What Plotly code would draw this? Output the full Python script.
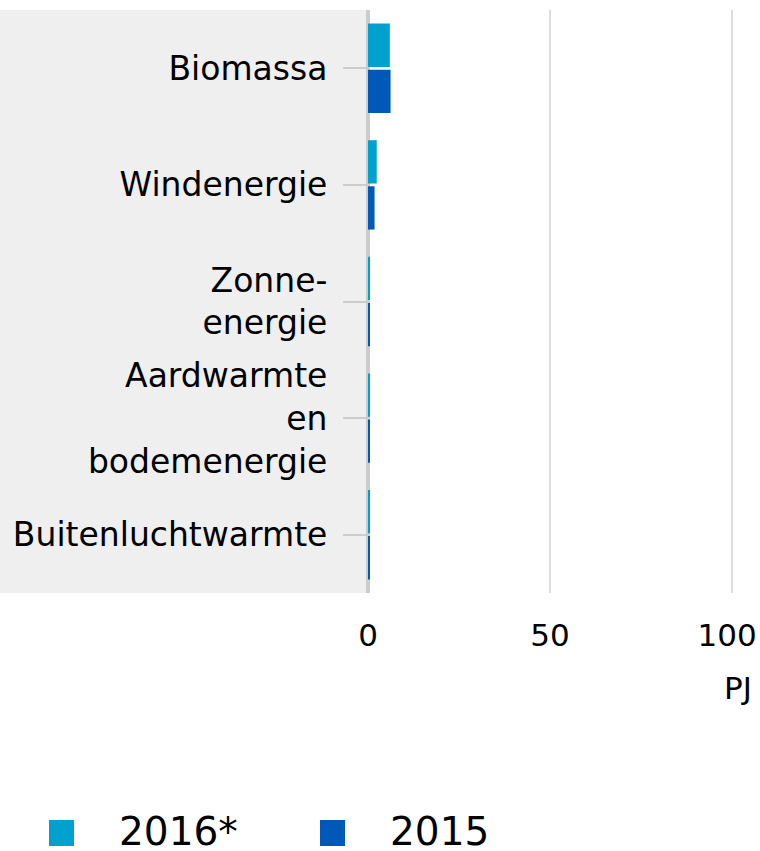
import plotly.graph_objects as go

categories = ["Biomassa", "Windenergie", "Zonne-<br>energie", "Aardwarmte<br>en<br>bodemenergie", "Buitenluchtwarmte"]
series_names = ["2016*", "2015"]
values_2016 = [6.0, 2.4, 0.55, 0.5, 0.35]
values_2015 = [6.2, 1.8, 0.5, 0.5, 0.3]
x_ticks = [0, 50, 100]
x_ticktext = ["0", "50", "100\u00a0"]
x_unit = "PJ"
colors = ["#00a1cd", "#0058b8"]

W, H = 760, 851
ML, MR, MT, MB = 368, 0, 10, 258
pw, ph = W - ML - MR, H - MT - MB
FONT = "DejaVu Sans"

fig = go.Figure()
for name, vals, col in zip(series_names, [values_2016, values_2015], colors):
    fig.add_trace(go.Bar(y=categories, x=vals, name=name, orientation="h",
                         marker=dict(color=col, line=dict(width=0)), showlegend=False))

def px_x(p):
    return (p - ML) / pw

def px_y(p):
    return (H - MB - p) / ph

shapes = [dict(type="rect", xref="paper", yref="paper", x0=px_x(0), x1=px_x(366),
               y0=0, y1=1, fillcolor="#efefef", line=dict(width=0), layer="below")]
annotations = [dict(text=x_unit, xref="paper", yref="paper", x=px_x(754), y=px_y(688),
                    xanchor="right", yanchor="middle", showarrow=False,
                    font=dict(family=FONT, size=31, color="#000"))]
leg_sq_x = [49, 320]
leg_txt_x = [117, 388]
for name, col, sx, tx in zip(series_names, colors, leg_sq_x, leg_txt_x):
    shapes.append(dict(type="rect", xref="paper", yref="paper", x0=px_x(sx), x1=px_x(sx + 25),
                       y0=px_y(846), y1=px_y(820), fillcolor=col, line=dict(width=0)))
    annotations.append(dict(text=name, xref="paper", yref="paper", x=px_x(tx), y=px_y(831),
                            xanchor="left", yanchor="middle", showarrow=False,
                            font=dict(family=FONT, size=39, color="#000")))

fig.update_layout(
    width=W, height=H, margin=dict(l=ML, r=MR, t=MT, b=MB, pad=0, autoexpand=False),
    plot_bgcolor="white", paper_bgcolor="white",
    barmode="group", bargap=0.21, bargroupgap=0.06,
    font=dict(family=FONT, color="#000"),
    shapes=shapes, annotations=annotations,
    xaxis=dict(range=[0, pw / 3.64], tickvals=x_ticks, ticktext=x_ticktext,
               ticklabeloverflow="allow", automargin=False,
               showgrid=True, gridcolor="#dddddd", gridwidth=2,
               zeroline=True, zerolinecolor="#cccccc", zerolinewidth=4,
               showline=False, ticks="outside", ticklen=15, tickcolor="rgba(0,0,0,0)",
               tickfont=dict(family=FONT, size=31, color="#000")),
    yaxis=dict(autorange="reversed", showgrid=False, zeroline=False, showline=False,
               automargin=False,
               ticks="outside", ticklen=24, tickwidth=2, tickcolor="#cccccc",
               ticklabelstandoff=9,
               tickfont=dict(family=FONT, size=33, color="#000")),
)
fig.write_html("out.html", config={"displayModeBar": False},
               post_script="document.body.style.margin='0';document.body.style.overflow='hidden';")
